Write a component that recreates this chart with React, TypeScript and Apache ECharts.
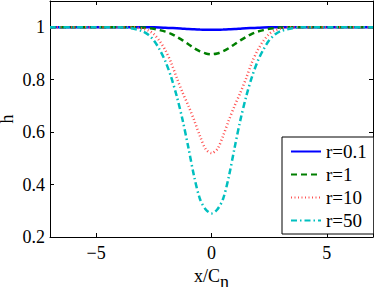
import React, { useEffect, useRef } from "react";
import * as echarts from "echarts";

const xValues = [-7, -6, -5, -4.5, -4, -3.5, -3, -2.75, -2.5, -2.25, -2, -1.75, -1.5, -1.25, -1, -0.75, -0.5, -0.25, 0,
  0.25, 0.5, 0.75, 1, 1.25, 1.5, 1.75, 2, 2.25, 2.5, 2.75, 3, 3.5, 4, 4.5, 5, 6, 7];
const hR01 = [1, 1, 1, 1, 1, 1, 1, 0.9998, 0.9995, 0.999, 0.998, 0.997, 0.996, 0.9945, 0.993, 0.992, 0.991, 0.9903, 0.99,
  0.9903, 0.991, 0.992, 0.993, 0.9945, 0.996, 0.997, 0.998, 0.999, 0.9995, 0.9998, 1, 1, 1, 1, 1, 1, 1];
const hR1 = [1, 1, 1, 1, 1, 1, 0.999, 0.997, 0.994, 0.989, 0.983, 0.975, 0.963, 0.95, 0.935, 0.92, 0.908, 0.9, 0.897,
  0.9, 0.908, 0.92, 0.935, 0.95, 0.963, 0.975, 0.983, 0.989, 0.994, 0.997, 0.999, 1, 1, 1, 1, 1, 1];
const hR10 = [1, 1, 1, 1, 1, 1, 0.995, 0.988, 0.974, 0.948, 0.912, 0.865, 0.805, 0.75, 0.7, 0.645, 0.585, 0.535, 0.52,
  0.535, 0.585, 0.645, 0.7, 0.75, 0.805, 0.865, 0.912, 0.948, 0.974, 0.988, 0.995, 1, 1, 1, 1, 1, 1];
const hR50 = [1, 1, 1, 1, 1, 0.996, 0.985, 0.972, 0.95, 0.915, 0.87, 0.81, 0.735, 0.645, 0.54, 0.43, 0.345, 0.305, 0.29,
  0.305, 0.345, 0.43, 0.54, 0.645, 0.735, 0.81, 0.87, 0.915, 0.95, 0.972, 0.985, 0.996, 1, 1, 1, 1, 1];
const seriesNames = ["r=0.1", "r=1", "r=10", "r=50"];
const xTicks = [-5, 0, 5];
const yTicks = [0.2, 0.4, 0.6, 0.8, 1];

const FONT = "Liberation Serif";

export default function App() {
  const ref = useRef<HTMLDivElement>(null);
  useEffect(() => {
    if (!ref.current) return;
    const chart = echarts.init(ref.current, null, { renderer: "svg" });
    const pair = (ys: number[]) => xValues.map((x, i) => [x, ys[i]]);
    const axisLine = { show: true, onZero: false, lineStyle: { color: "#000", width: 1 } };
    const tickStyle = { inside: true, length: 4, lineStyle: { color: "#000", width: 1 } };
    const mk = (name: string, ys: number[], color: string, width: number, type: any) => ({
      name,
      type: "line",
      data: pair(ys),
      smooth: 0.3,
      symbol: "none",
      showSymbol: false,
      lineStyle: { color, width, type },
      itemStyle: { color },
      z: 2,
    });
    chart.setOption({
      animation: false,
      backgroundColor: "#fff",
      grid: { left: 50, right: 1, top: 1, bottom: 50, outerBoundsMode: "none", containLabel: false },
      legend: {
        orient: "vertical",
        left: 282,
        top: 137,
        data: seriesNames,
        backgroundColor: "#fff",
        borderColor: "#000",
        borderWidth: 1,
        borderRadius: 0,
        padding: [3, 7, 2, 8],
        itemWidth: 30,
        itemHeight: 14,
        itemGap: 0,
        itemStyle: { opacity: 0 },
        textStyle: { fontFamily: FONT, fontSize: 19, color: "#000", lineHeight: 23 },
      },
      xAxis: [
        {
          type: "value",
          min: -7,
          max: 7,
          name: "x/C{sub|n}",
          nameLocation: "middle",
          nameGap: 18,
          nameTextStyle: {
            fontFamily: FONT,
            fontSize: 18,
            color: "#000",
            rich: { sub: { fontFamily: FONT, fontSize: 18, color: "#000", verticalAlign: "bottom", padding: [12, 0, 0, 0] } },
          },
          axisLine,
          axisTick: { ...tickStyle, customValues: xTicks },
          axisLabel: {
            customValues: xTicks,
            fontFamily: FONT,
            fontSize: 18,
            color: "#000",
            margin: 7,
            formatter: (v: number) => (v < 0 ? "\u2212" + Math.abs(v) : String(v)),
          },
          splitLine: { show: false },
        },
        {
          type: "value",
          position: "top",
          min: -7,
          max: 7,
          axisLine,
          axisTick: { ...tickStyle, customValues: xTicks },
          axisLabel: { show: false },
          splitLine: { show: false },
        },
      ],
      yAxis: [
        {
          type: "value",
          min: 0.2,
          max: 1.1,
          name: "h",
          nameLocation: "middle",
          nameGap: 34,
          nameMoveOverlap: false,
          nameTextStyle: { fontFamily: FONT, fontSize: 18, color: "#000" },
          axisLine,
          axisTick: { ...tickStyle, customValues: yTicks },
          axisLabel: {
            customValues: yTicks,
            fontFamily: FONT,
            fontSize: 18,
            color: "#000",
            margin: 5,
            formatter: (v: number) => String(+v.toFixed(1)),
          },
          splitLine: { show: false },
        },
        {
          type: "value",
          position: "right",
          min: 0.2,
          max: 1.1,
          axisLine,
          axisTick: { ...tickStyle, customValues: yTicks },
          axisLabel: { show: false },
          splitLine: { show: false },
        },
      ],
      series: [
        mk(seriesNames[0], hR01, "#0000ff", 2.5, "solid"),
        mk(seriesNames[1], hR1, "#007f00", 2.5, [6, 4]),
        mk(seriesNames[2], hR10, "#ff5050", 2.5, [1, 2.5]),
        mk(seriesNames[3], hR50, "#00bfbf", 2.5, [6, 3, 1.5, 3]),
      ],
    });
    return () => chart.dispose();
  }, []);
  return <div ref={ref} style={{ position: "fixed", left: 0, top: 0, width: 374, height: 287 }} />;
}
